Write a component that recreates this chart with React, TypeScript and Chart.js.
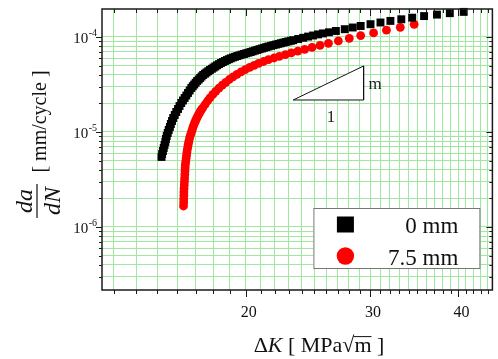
import React, { useEffect, useRef } from 'react';
import { Chart, registerables } from 'chart.js';

Chart.register(...registerables);

// ---- data ----
const LEGEND_LABELS = ['0 mm', '7.5 mm'];

// 0 mm (black squares): ΔK [MPa√m] and da/dN [mm/cycle]
const DK_0MM = [
  15.20, 15.23, 15.27, 15.31, 15.35, 15.39, 15.42, 15.46, 15.51, 15.56,
  15.62, 15.67, 15.73, 15.79, 15.87, 15.95, 16.04, 16.12, 16.21, 16.30,
  16.39, 16.48, 16.57, 16.66,
  16.75, 16.83, 16.91, 16.99, 17.07, 17.16, 17.24, 17.32, 17.41, 17.51,
  17.60, 17.70, 17.80, 17.91, 18.01, 18.11, 18.21, 18.33, 18.45, 18.57,
  18.69, 18.81, 18.93, 19.05, 19.18, 19.32, 19.46, 19.60, 19.74, 19.89,
  20.03, 20.18, 20.33, 20.47, 20.62, 20.77, 20.92, 21.08, 21.23, 21.39,
  21.54, 21.72, 21.89, 22.07, 22.25, 22.43, 22.61, 22.79, 22.98, 23.17,
  23.35,
  23.73, 24.12, 24.51, 24.91, 25.32, 25.73, 26.23, 26.83, 27.62, 28.35,
  29.09, 30.04, 31.03, 32.05, 33.21, 34.41, 35.77, 37.30, 38.90, 40.70,
];
const DADN_0MM = [
  5.46e-6, 5.87e-6, 6.31e-6, 6.79e-6, 7.30e-6, 7.85e-6, 8.44e-6, 9.08e-6, 9.76e-6, 1.050e-5,
  1.129e-5, 1.214e-5, 1.306e-5, 1.404e-5, 1.510e-5, 1.624e-5, 1.746e-5, 1.878e-5, 2.020e-5, 2.146e-5,
  2.280e-5, 2.422e-5, 2.574e-5, 2.734e-5,
  2.905e-5, 3.031e-5, 3.162e-5, 3.299e-5, 3.442e-5, 3.570e-5, 3.702e-5, 3.839e-5, 3.981e-5, 4.104e-5,
  4.230e-5, 4.360e-5, 4.494e-5, 4.627e-5, 4.763e-5, 4.898e-5, 5.036e-5, 5.179e-5, 5.325e-5, 5.456e-5,
  5.590e-5, 5.713e-5, 5.839e-5, 5.960e-5, 6.085e-5, 6.196e-5, 6.310e-5, 6.418e-5, 6.527e-5, 6.631e-5,
  6.736e-5, 6.843e-5, 6.952e-5, 7.071e-5, 7.192e-5, 7.315e-5, 7.440e-5, 7.567e-5, 7.697e-5, 7.819e-5,
  7.943e-5, 8.069e-5, 8.198e-5, 8.328e-5, 8.460e-5, 8.594e-5, 8.731e-5, 8.859e-5, 8.988e-5, 9.120e-5,
  9.254e-5,
  9.527e-5, 9.808e-5, 1.010e-4, 1.037e-4, 1.065e-4, 1.091e-4, 1.121e-4, 1.157e-4, 1.208e-4, 1.259e-4,
  1.306e-4, 1.364e-4, 1.421e-4, 1.477e-4, 1.536e-4, 1.597e-4, 1.660e-4, 1.721e-4, 1.781e-4, 1.838e-4,
];

// 7.5 mm (red circles)
const DK_75MM = [
  16.33, 16.34, 16.34, 16.35, 16.35, 16.36, 16.37, 16.38, 16.39, 16.40,
  16.41, 16.42, 16.43, 16.45, 16.47, 16.49, 16.51, 16.53, 16.56, 16.58,
  16.61, 16.64, 16.67, 16.71, 16.75, 16.79, 16.83, 16.87, 16.92, 16.97,
  17.02, 17.07, 17.13, 17.19, 17.25, 17.31, 17.38,
  17.52, 17.66, 17.80, 17.97, 18.14, 18.33, 18.53, 18.74, 18.96, 19.19,
  19.44, 19.70, 19.97, 20.26, 20.56, 20.86, 21.20, 21.54, 21.93, 22.32,
  22.76, 23.20, 23.70, 24.24, 24.83, 25.48, 26.19, 27.05, 28.03, 29.09,
  30.34, 31.64, 33.10, 34.63,
];
const DADN_75MM = [
  1.664e-6, 1.811e-6, 1.971e-6, 2.146e-6, 2.336e-6, 2.542e-6, 2.768e-6, 3.013e-6, 3.279e-6, 3.570e-6,
  3.885e-6, 4.204e-6, 4.549e-6, 4.892e-6, 5.261e-6, 5.657e-6, 6.084e-6, 6.504e-6, 6.951e-6, 7.386e-6,
  7.849e-6, 8.338e-6, 8.859e-6, 9.355e-6, 9.880e-6, 1.043e-5, 1.102e-5, 1.164e-5, 1.229e-5, 1.293e-5,
  1.360e-5, 1.428e-5, 1.499e-5, 1.570e-5, 1.644e-5, 1.715e-5, 1.789e-5,
  1.947e-5, 2.120e-5, 2.291e-5, 2.482e-5, 2.682e-5, 2.891e-5, 3.109e-5, 3.335e-5, 3.570e-5, 3.811e-5,
  4.049e-5, 4.292e-5, 4.538e-5, 4.786e-5, 5.036e-5, 5.286e-5, 5.522e-5, 5.768e-5, 6.011e-5, 6.264e-5,
  6.527e-5, 6.802e-5, 7.088e-5, 7.422e-5, 7.772e-5, 8.158e-5, 8.584e-5, 9.098e-5, 9.690e-5, 1.035e-4,
  1.104e-4, 1.179e-4, 1.265e-4, 1.360e-4,
];

// slope triangle annotation (data coordinates) and its labels
const TRIANGLE_DK = [23.35, 29.37, 29.37, 23.35];
const TRIANGLE_DADN = [2.172e-5, 4.951e-5, 2.172e-5, 2.172e-5];
const SLOPE_LABELS = ['m', '1'];
const SLOPE_LABEL_DK = [30.5, 26.4];
const SLOPE_LABEL_DADN = [3.124e-5, 1.404e-5];

// axes
const X_RANGE = [12.52, 44.69];
const Y_RANGE = [2.171e-7, 1.971e-4];
const X_TICK_LABELS = [20, 30, 40];
const X_MINOR_START = 13;
const X_MINOR_END = 44;
const Y_DECADES = [-7, -6, -5, -4];
const Y_TICK_LABEL_EXPONENTS = [-6, -5, -4];

const SERIF = '"Liberation Serif", "Times New Roman", "DejaVu Serif", serif';
const GRID = 'rgb(160, 232, 160)';

const xTicks: number[] = [];
for (let v = X_MINOR_START; v <= X_MINOR_END; v++) xTicks.push(v);
const yTicks: number[] = [];
for (const e of Y_DECADES) for (let m = 1; m <= 9; m++) {
  const v = m * Math.pow(10, e);
  if (v >= Y_RANGE[0] && v <= Y_RANGE[1]) yTicks.push(v);
}

const decorPlugin = {
  id: 'decor',
  afterDatasetsDraw(chart: any) {
    const { ctx, chartArea: a, scales } = chart;
    const xs = scales.x;
    const ys = scales.y;
    const line = (x1: number, y1: number, x2: number, y2: number) => {
      ctx.beginPath();
      ctx.moveTo(x1, y1);
      ctx.lineTo(x2, y2);
      ctx.stroke();
    };
    ctx.save();
    // frame
    ctx.strokeStyle = '#1a1a1a';
    ctx.lineWidth = 1.5;
    ctx.strokeRect(a.left, a.top, a.right - a.left, a.bottom - a.top);
    // ticks
    ctx.lineWidth = 1;
    for (const v of xTicks) {
      const px = Math.round(xs.getPixelForValue(v)) + 0.5;
      const major = X_TICK_LABELS.includes(v);
      const len = major ? 7 : 4;
      line(px, a.bottom, px, a.bottom + len);
      line(px, a.top, px, a.top + len);
    }
    for (const v of yTicks) {
      const py = Math.round(ys.getPixelForValue(v)) + 0.5;
      const major = Math.abs(Math.log10(v) - Math.round(Math.log10(v))) < 1e-6;
      const len = major ? 6 : 3;
      line(a.left - len, py, a.left, py);
      line(a.right - len, py, a.right, py);
    }
    // x tick labels
    ctx.fillStyle = '#111';
    ctx.font = `16px ${SERIF}`;
    ctx.textAlign = 'center';
    ctx.textBaseline = 'middle';
    for (const v of X_TICK_LABELS) {
      ctx.fillText(String(v), xs.getPixelForValue(v) + 3, a.bottom + 23);
    }
    // y tick labels 10^n
    for (const e of Y_TICK_LABEL_EXPONENTS) {
      const py = ys.getPixelForValue(Math.pow(10, e));
      ctx.font = `10px ${SERIF}`;
      const sup = '-' + String(-e);
      const supW = ctx.measureText(sup).width;
      const right = a.left - 5;
      ctx.textAlign = 'right';
      ctx.textBaseline = 'alphabetic';
      ctx.fillText(sup, right, py - 1);
      ctx.font = `15px ${SERIF}`;
      ctx.fillText('10', right - supW - 0.5, py + 6);
    }
    // x axis title: ΔK [ MPa√m ]
    {
      const fs = 22;
      const base = 352;
      const parts: [string, string][] = [
        ['Δ', `${fs}px ${SERIF}`],
        ['K', `italic ${fs}px ${SERIF}`],
        [' [ MPa', `${fs}px ${SERIF}`],
        ['√', `${fs}px ${SERIF}`],
        ['m', `${fs}px ${SERIF}`],
        [' ]', `${fs}px ${SERIF}`],
      ];
      let total = 0;
      const widths = parts.map(([t, f]) => { ctx.font = f; const w = ctx.measureText(t).width; total += w; return w; });
      let x = 319 - total / 2;
      ctx.textAlign = 'left';
      ctx.textBaseline = 'alphabetic';
      let sqrtEnd = 0;
      let mEnd = 0;
      parts.forEach(([t, f], i) => {
        ctx.font = f;
        ctx.fillText(t, x, base);
        x += widths[i];
        if (t === '√') sqrtEnd = x;
        if (t === 'm') mEnd = x;
      });
      ctx.strokeStyle = '#111';
      ctx.lineWidth = 1;
      line(sqrtEnd - 1, base - fs * 0.7, mEnd, base - fs * 0.7);
    }
    // y axis title: da/dN [ mm/cycle ]
    {
      ctx.save();
      ctx.translate(46, 121.5);
      ctx.rotate(-Math.PI / 2);
      ctx.font = `20px ${SERIF}`;
      ctx.textAlign = 'center';
      ctx.textBaseline = 'alphabetic';
      ctx.fillText('[ mm/cycle ]', 0, 0);
      ctx.restore();

      ctx.save();
      ctx.translate(37, 201);
      ctx.rotate(-Math.PI / 2);
      ctx.font = `italic 24px ${SERIF}`;
      ctx.textAlign = 'center';
      ctx.textBaseline = 'alphabetic';
      ctx.fillText('da', 0, -5);
      ctx.fillText('dN', 0, 23);
      ctx.strokeStyle = '#111';
      ctx.lineWidth = 1.2;
      line(-17, 0, 17, 0);
      ctx.restore();
    }
    // slope labels
    ctx.font = `17px ${SERIF}`;
    ctx.textAlign = 'center';
    ctx.textBaseline = 'middle';
    ctx.fillStyle = '#222';
    SLOPE_LABELS.forEach((t, i) => {
      ctx.fillText(t, xs.getPixelForValue(SLOPE_LABEL_DK[i]), ys.getPixelForValue(SLOPE_LABEL_DADN[i]));
    });
    // legend
    {
      const bx = a.right - 179;
      const by = a.bottom - 82;
      const bw = 166;
      const bh = 60;
      ctx.fillStyle = '#fff';
      ctx.fillRect(bx, by, bw, bh);
      ctx.strokeStyle = '#777';
      ctx.lineWidth = 1;
      ctx.strokeRect(bx + 0.5, by + 0.5, bw, bh);
      const ds = chart.data.datasets.filter((d: any) => LEGEND_LABELS.includes(d.label));
      ds.forEach((d: any, i: number) => {
        const cy = by + 16.5 + i * 31.5;
        const cx = bx + 32;
        ctx.fillStyle = d.backgroundColor;
        if (d.pointStyle === 'rect') {
          ctx.fillRect(cx - 8.5, cy - 8, 17, 16);
        } else {
          ctx.beginPath();
          ctx.arc(cx, cy, 8.7, 0, Math.PI * 2);
          ctx.fill();
        }
        ctx.fillStyle = '#111';
        ctx.font = `23px ${SERIF}`;
        ctx.textAlign = 'right';
        ctx.textBaseline = 'alphabetic';
        ctx.fillText(d.label, bx + 145, cy + 8.5);
      });
    }
    ctx.restore();
  },
};

export default function App() {
  const ref = useRef<HTMLCanvasElement>(null);
  useEffect(() => {
    if (!ref.current) return;
    const chart = new Chart(ref.current, {
      type: 'scatter',
      data: {
        datasets: [
          {
            type: 'line',
            label: 'slope',
            data: TRIANGLE_DK.map((x, i) => ({ x, y: TRIANGLE_DADN[i] })),
            borderColor: '#111',
            borderWidth: 1,
            backgroundColor: '#ffffff',
            fill: 'shape',
            pointRadius: 0,
            tension: 0,
          } as any,
          {
            label: LEGEND_LABELS[0],
            data: DK_0MM.map((x, i) => ({ x, y: DADN_0MM[i] })),
            pointStyle: 'rect',
            pointRadius: 5.6,
            backgroundColor: '#000000',
            borderColor: '#000000',
            borderWidth: 0,
            clip: false,
          } as any,
          {
            label: LEGEND_LABELS[1],
            data: DK_75MM.map((x, i) => ({ x, y: DADN_75MM[i] })),
            pointStyle: 'circle',
            pointRadius: 4.4,
            backgroundColor: '#ff0000',
            borderColor: '#ff0000',
            borderWidth: 0,
            clip: false,
          } as any,
        ],
      },
      options: {
        animation: false,
        responsive: false,
        devicePixelRatio: 1,
        events: [],
        layout: { padding: { top: 9, right: 2, left: 0, bottom: 0 } },
        plugins: { legend: { display: false }, tooltip: { enabled: false } },
        scales: {
          x: {
            type: 'logarithmic',
            min: X_RANGE[0],
            max: X_RANGE[1],
            grid: { color: GRID, lineWidth: 1, drawTicks: false },
            border: { display: false },
            ticks: { display: false },
            afterBuildTicks: (s: any) => { s.ticks = xTicks.map((v) => ({ value: v })); },
            afterFit: (s: any) => { s.height = 69; },
          },
          y: {
            type: 'logarithmic',
            min: Y_RANGE[0],
            max: Y_RANGE[1],
            grid: { color: GRID, lineWidth: 1, drawTicks: false },
            border: { display: false },
            ticks: { display: false },
            afterBuildTicks: (s: any) => { s.ticks = yTicks.map((v) => ({ value: v })); },
            afterFit: (s: any) => { s.width = 102; },
          },
        },
      } as any,
      plugins: [decorPlugin],
    });
    return () => chart.destroy();
  }, []);
  return (
    <div style={{ position: 'fixed', left: 0, top: 0, width: 498, height: 359, background: '#fff' }}>
      <canvas ref={ref} width={498} height={359} style={{ display: 'block' }} />
    </div>
  );
}
